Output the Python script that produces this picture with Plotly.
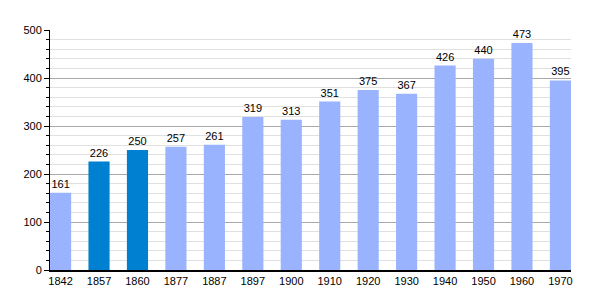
import plotly.graph_objects as go

years = ["1842", "1857", "1860", "1877", "1887", "1897", "1900", "1910",
         "1920", "1930", "1940", "1950", "1960", "1970"]
population = [161, 226, 250, 257, 261, 319, 313, 351, 375, 367, 426, 440, 473, 395]
highlighted = ["1857", "1860"]

light = "#99b3ff"
dark = "#0080d0"
colors = [dark if y in highlighted else light for y in years]

fig = go.Figure(go.Bar(
    x=years, y=population, marker=dict(color=colors, line=dict(width=0)),
    width=0.55, text=[str(v) for v in population], textposition="outside",
    textfont=dict(family="Liberation Sans, Arial, sans-serif", size=11, color="#000"),
    cliponaxis=False, hoverinfo="skip",
))

fig.update_layout(
    width=600, height=300,
    margin=dict(l=50, r=29, t=30, b=30),
    plot_bgcolor="white", paper_bgcolor="white",
    showlegend=False,
    font=dict(family="Liberation Sans, Arial, sans-serif", size=11, color="#000"),
    bargap=0.45,
)
fig.update_xaxes(
    type="category", range=[-0.275, 13.275],
    showline=True, linecolor="#000", linewidth=2,
    ticks="", showgrid=False, tickfont=dict(size=11),
)
fig.update_yaxes(
    range=[0, 500], dtick=100, tick0=0,
    showline=True, linecolor="#000", linewidth=1,
    ticks="outside", ticklen=5, tickcolor="#000",
    showgrid=True, gridcolor="#a8a8a8", gridwidth=1,
    zeroline=False, tickfont=dict(size=11),
    minor=dict(dtick=20, tick0=0, showgrid=True, gridcolor="#e0e0e0", gridwidth=1,
               ticks="outside", ticklen=3, tickcolor="#000"),
)

fig.write_html("out.html")
